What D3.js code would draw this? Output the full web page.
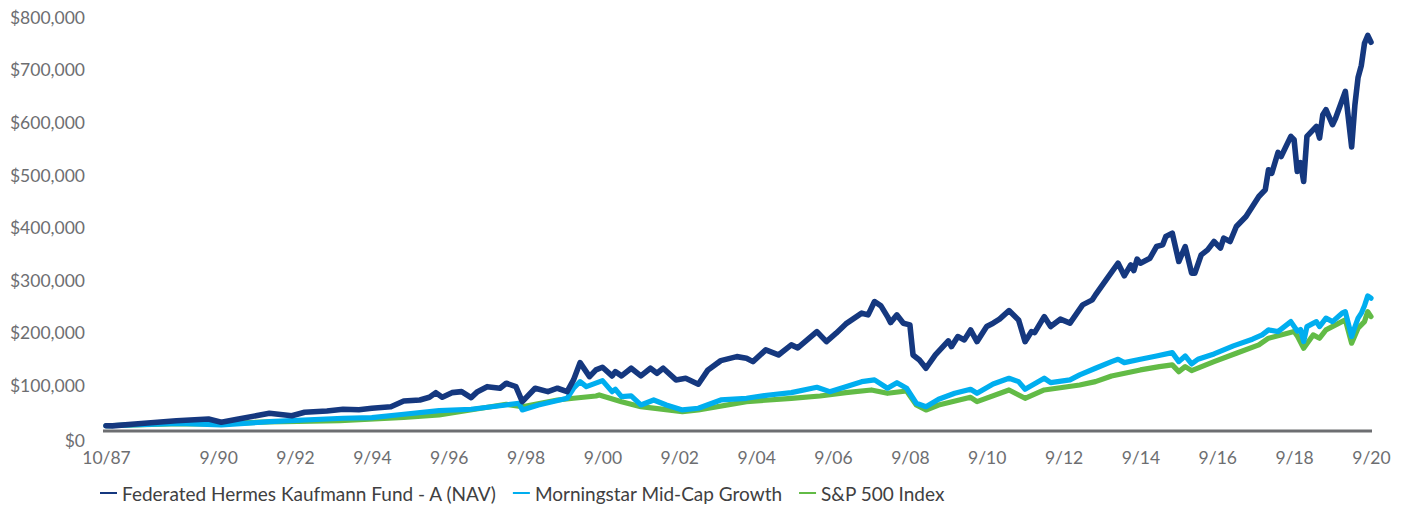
<!DOCTYPE html>
<html>
<head>
<meta charset="utf-8">
<script src="https://cdn.jsdelivr.net/npm/d3@7"></script>
<style>
  html, body { margin: 0; padding: 0; background: #ffffff; }
  svg { display: block; }
</style>
</head>
<body>
<svg id="chart" width="1405" height="506"></svg>
<script>
// ---------------- DATA ----------------
const seriesNames = ["Federated Hermes Kaufmann Fund - A (NAV)", "Morningstar Mid-Cap Growth", "S&P 500 Index"];

const fundDates = ["1987-10","1987-12","1988-10","1989-08","1990-06","1990-10","1991-03","1992-01","1992-08","1992-12","1993-07","1993-12","1994-05","1994-09","1995-03","1995-07","1995-12","1996-03","1996-05","1996-07","1996-10","1997-01","1997-04","1997-06","1997-09","1998-01","1998-03","1998-06","1998-08","1998-12","1999-04","1999-07","1999-10","1999-12","2000-02","2000-05","2000-07","2000-09","2000-12","2001-01","2001-03","2001-06","2001-09","2001-12","2002-02","2002-04","2002-08","2002-11","2003-03","2003-06","2003-10","2004-03","2004-06","2004-08","2004-12","2005-04","2005-08","2005-10","2006-04","2006-07","2006-10","2007-01","2007-06","2007-08","2007-10","2007-12","2008-02","2008-03","2008-05","2008-07","2008-09","2008-10","2008-12","2009-02","2009-05","2009-09","2009-10","2009-12","2010-02","2010-04","2010-06","2010-09","2010-11","2011-01","2011-04","2011-07","2011-09","2011-11","2011-12","2012-03","2012-05","2012-08","2012-11","2013-02","2013-03","2013-06","2013-07","2013-11","2014-02","2014-04","2014-06","2014-07","2014-08","2014-09","2014-12","2015-02","2015-04","2015-05","2015-07","2015-09","2015-11","2016-01","2016-02","2016-04","2016-06","2016-08","2016-10","2016-11","2017-01","2017-03","2017-06","2017-10","2017-12","2018-01","2018-02","2018-04","2018-05","2018-08","2018-09","2018-10","2018-11","2018-12","2019-01","2019-04","2019-05","2019-06","2019-07","2019-09","2019-10","2020-01","2020-03","2020-04","2020-05","2020-06","2020-07","2020-08","2020-09"];
const fundValues = [10000,9800,14700,19600,22800,16600,22300,33700,29100,35600,38100,41300,40500,43200,46200,57100,59000,64100,72900,64100,72900,74800,63400,74800,84300,81300,90800,84300,55800,81300,74800,81300,74800,97100,130000,103300,116100,121200,104700,112800,104700,119300,104700,119300,109800,119300,97100,100300,88900,116100,133800,141400,138300,131900,154100,144600,163700,158000,189000,169900,185900,203600,224000,220700,246100,237900,217500,206100,220700,205000,201700,144600,135100,119300,144600,171300,160400,179500,173200,192200,169900,198500,205000,212600,228900,211200,169900,189000,187100,217500,198500,212600,205000,231600,239800,249300,258800,293600,319100,295000,315900,305000,326800,319100,328600,350700,353900,369800,376200,322200,350700,300100,300100,334900,344400,360200,347700,366700,360200,388800,407800,445900,458600,496700,490000,529600,522000,560100,553800,493500,510000,474400,560100,579100,557000,601300,610900,582300,595100,645700,540000,620000,672000,695000,737000,752000,739000];

const midcapDates = ["1987-10","1989-09","1990-10","1992-01","1993-12","1994-09","1995-07","1996-06","1997-04","1998-03","1998-07","1998-08","1999-01","1999-10","1999-12","2000-02","2000-04","2000-09","2000-12","2001-01","2001-03","2001-06","2001-09","2002-01","2002-05","2002-10","2003-03","2003-10","2004-06","2005-01","2005-08","2006-04","2006-08","2007-01","2007-06","2007-10","2008-02","2008-05","2008-08","2008-11","2009-02","2009-06","2009-11","2010-04","2010-06","2010-11","2011-04","2011-07","2011-09","2012-03","2012-05","2012-11","2013-02","2013-07","2013-12","2014-02","2014-04","2014-09","2015-02","2015-07","2015-09","2015-11","2016-01","2016-03","2016-08","2017-02","2017-08","2017-11","2018-01","2018-04","2018-08","2018-10","2018-11","2018-12","2019-01","2019-04","2019-05","2019-07","2019-09","2019-12","2020-01","2020-03","2020-04","2020-05","2020-06","2020-07","2020-08","2020-09"];
const midcapValues = [10000,14300,11500,17700,24200,25300,31800,38600,41300,49500,52700,40000,49500,62200,81300,93800,84300,95700,74800,79400,65300,66600,49500,59000,49500,40000,43200,59000,62200,68500,72900,83200,74800,84300,93800,97100,81300,91900,81300,52700,46200,60300,71700,79400,71700,89400,100300,93800,79400,100300,91900,97100,106600,119300,131900,136400,130000,136400,142700,149000,131900,142700,127500,136400,146500,161800,174500,182700,192200,189000,208000,190000,193000,170000,198500,208000,198500,214500,208000,224000,227000,179500,198000,214500,224000,238000,256900,252500];

const spDates = ["1987-10","1989-09","1990-10","1992-01","1993-11","1995-07","1996-06","1998-03","1998-08","1999-07","1999-12","2000-07","2000-08","2001-03","2001-09","2002-10","2003-03","2004-06","2005-08","2006-05","2007-01","2007-09","2008-02","2008-08","2008-11","2009-02","2009-06","2010-04","2010-06","2011-04","2011-09","2012-03","2013-02","2013-07","2013-12","2014-09","2015-03","2015-07","2015-09","2015-11","2016-01","2016-08","2017-03","2017-10","2018-01","2018-09","2018-10","2018-12","2019-03","2019-05","2019-07","2020-01","2020-03","2020-05","2020-07","2020-08","2020-09"];
const spValues = [10000,14000,13500,17500,19600,26000,30400,50800,46200,59000,62200,66600,68500,55800,46200,36700,40000,55800,62200,66600,72900,78000,71700,76000,49500,40000,49500,64100,55800,78000,62200,78000,87500,93800,104700,116100,122400,125600,112800,122400,114800,131900,147900,163700,176400,189000,180800,157400,182700,176400,192200,211200,166900,195400,208000,227000,217500];

const yTickValues = [0,100000,200000,300000,400000,500000,600000,700000,800000];
const xTickDates = ["1987-10","1990-09","1992-09","1994-09","1996-09","1998-09","2000-09","2002-09","2004-09","2006-09","2008-09","2010-09","2012-09","2014-09","2016-09","2018-09","2020-09"];

// ---------------- LAYOUT ----------------
const plotLeft = 106, plotRight = 1371;
const plotBottom = 431, plotTop = 10.2;
const colors = ["#15387f", "#00aeef", "#62bb46"];
const widths = [5.6, 5.2, 5.2];
const fontFamily = "Lato, 'Open Sans', sans-serif";

const parse = d3.timeParse("%Y-%m");
const svg = d3.select("#chart");

const x = d3.scaleTime()
  .domain([parse("1987-10"), parse("2020-09")])
  .range([plotLeft, plotRight]);
const y = d3.scaleLinear()
  .domain([0, 800000])
  .range([plotBottom, plotTop]);

// y labels (top of label aligned with value)
const yFmt = d => "$" + d3.format(",")(d);
const yAxis = d3.axisLeft(y).tickValues(yTickValues).tickFormat(yFmt).tickSize(0).tickPadding(0);
const gy = svg.append("g").attr("transform", "translate(85,0)").call(yAxis);
gy.select(".domain").remove();
gy.selectAll("text")
  .attr("dy", null)
  .attr("dominant-baseline", "central")
  .attr("transform", d => d === 0 ? "translate(0,8.5)" : "translate(0,6.5)")
  .style("font-family", fontFamily)
  .style("font-size", "17.5px")
  .style("fill", "#6d6e71");

// x labels
const xFmt = d3.timeFormat("%-m/%y");
const xAxis = d3.axisBottom(x).tickValues(xTickDates.map(parse)).tickFormat(xFmt).tickSize(0).tickPadding(0);
const gx = svg.append("g").attr("transform", "translate(0,457)").call(xAxis);
gx.select(".domain").remove();
gx.selectAll("text")
  .attr("dy", null)
  .attr("y", 0)
  .attr("dominant-baseline", "central")
  .style("font-family", fontFamily)
  .style("font-size", "17.5px")
  .style("fill", "#6d6e71");

// baseline axis line
svg.append("line")
  .attr("x1", plotLeft - 3).attr("x2", plotRight + 1)
  .attr("y1", plotBottom).attr("y2", plotBottom)
  .attr("stroke", "#6d6e71").attr("stroke-width", 3);

// lines
const line = d3.line().x(d => x(d.date)).y(d => y(d.value));
const series = [
  { dates: spDates, values: spValues, idx: 2 },
  { dates: midcapDates, values: midcapValues, idx: 1 },
  { dates: fundDates, values: fundValues, idx: 0 }
];
series.forEach(s => {
  const pts = s.dates.map((d, i) => ({ date: parse(d), value: s.values[i] }));
  svg.append("path")
    .datum(pts)
    .attr("d", line)
    .attr("fill", "none")
    .attr("stroke", colors[s.idx])
    .attr("stroke-width", widths[s.idx])
    .attr("stroke-linejoin", "round")
    .attr("stroke-linecap", "round");
});

// legend
const legend = svg.append("g").attr("transform", "translate(100,493)");
let lx = 0;
seriesNames.forEach((name, i) => {
  const g = legend.append("g").attr("transform", `translate(${lx},0)`);
  g.append("line").attr("x1", 0).attr("x2", 17).attr("y1", 0).attr("y2", 0)
    .attr("stroke", colors[i]).attr("stroke-width", 2);
  const t = g.append("text").attr("x", 22).attr("y", 0)
    .attr("dominant-baseline", "central")
    .style("font-family", fontFamily)
    .style("font-size", "19px")
    .style("fill", "#404041")
    .text(name);
  lx += 22 + t.node().getComputedTextLength() + 17;
});
</script>
</body>
</html>
